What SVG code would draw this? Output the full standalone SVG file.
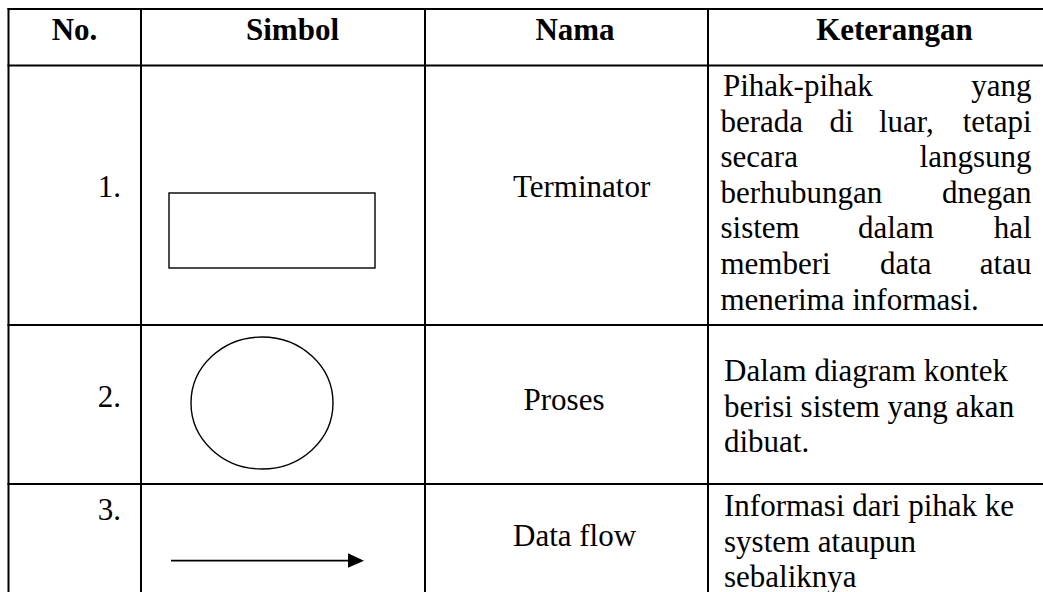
<svg xmlns="http://www.w3.org/2000/svg" width="1043" height="592" viewBox="0 0 1043 592">
  <style>
    .grid line { stroke: #000; stroke-width: 2; }
    .t { font-family: "Liberation Serif", "Times New Roman", serif; font-size: 31px; fill: #000; }
    .h { font-weight: bold; text-anchor: middle; }
    .sym { fill: none; stroke: #000; stroke-width: 1.4; }
    .e { text-anchor: end; }
  </style>
  <rect x="0" y="0" width="1043" height="592" fill="#fff"/>
  <g id="grid" class="grid">
    <line x1="7.5" y1="9" x2="1043" y2="9"/>
    <line x1="7.5" y1="65.5" x2="1043" y2="65.5"/>
    <line x1="7.5" y1="325" x2="1043" y2="325"/>
    <line x1="7.5" y1="484" x2="1043" y2="484"/>
    <line x1="8.5" y1="8" x2="8.5" y2="592"/>
    <line x1="141" y1="8" x2="141" y2="592"/>
    <line x1="425" y1="8" x2="425" y2="592"/>
    <line x1="708" y1="8" x2="708" y2="592"/>
  </g>
  <g id="header">
    <text class="t h" x="74.5" y="39.5">No.</text>
    <text class="t h" x="292.5" y="39.5">Simbol</text>
    <text class="t h" x="575" y="39.5">Nama</text>
    <text class="t h" x="894.5" y="39.5">Keterangan</text>
  </g>
  <g id="row1-terminator">
    <text class="t e" x="121" y="197">1.</text>
    <rect class="sym" x="169" y="193" width="206" height="75"/>
    <text class="t" x="513" y="197">Terminator</text>
    <text class="t" y="96"><tspan x="723">Pihak-pihak</tspan><tspan class="e" x="1031.5">yang</tspan></text>
    <text class="t" y="131.6"><tspan x="720.5">berada</tspan><tspan x="829.5">di</tspan><tspan x="879">luar,</tspan><tspan class="e" x="1031.5">tetapi</tspan></text>
    <text class="t" y="167.2"><tspan x="720.5">secara</tspan><tspan class="e" x="1031.5">langsung</tspan></text>
    <text class="t" y="202.8"><tspan x="720.5">berhubungan</tspan><tspan class="e" x="1031.5">dnegan</tspan></text>
    <text class="t" y="238.4"><tspan x="720.5">sistem</tspan><tspan x="858">dalam</tspan><tspan class="e" x="1031.5">hal</tspan></text>
    <text class="t" y="274"><tspan x="720.5">memberi</tspan><tspan x="880">data</tspan><tspan class="e" x="1031.5">atau</tspan></text>
    <text class="t" x="720.5" y="309.6">menerima informasi.</text>
  </g>
  <g id="row2-proses">
    <text class="t e" x="121" y="407">2.</text>
    <ellipse class="sym" cx="262" cy="403" rx="71" ry="66"/>
    <text class="t" x="523.5" y="410">Proses</text>
    <text class="t" x="724" y="381">Dalam diagram kontek</text>
    <text class="t" x="724" y="416.6">berisi sistem yang akan</text>
    <text class="t" x="724" y="452.2">dibuat.</text>
  </g>
  <g id="row3-dataflow">
    <text class="t e" x="121" y="520">3.</text>
    <line x1="171" y1="560.7" x2="350" y2="560.7" stroke="#000" stroke-width="1.8"/>
    <polygon points="348,553.3 364,560.7 348,567.7" fill="#000"/>
    <text class="t" x="513" y="546">Data flow</text>
    <text class="t" x="724" y="516">Informasi dari pihak ke</text>
    <text class="t" x="724" y="551.6">system ataupun</text>
    <text class="t" x="724" y="587.2">sebaliknya</text>
  </g>
</svg>
